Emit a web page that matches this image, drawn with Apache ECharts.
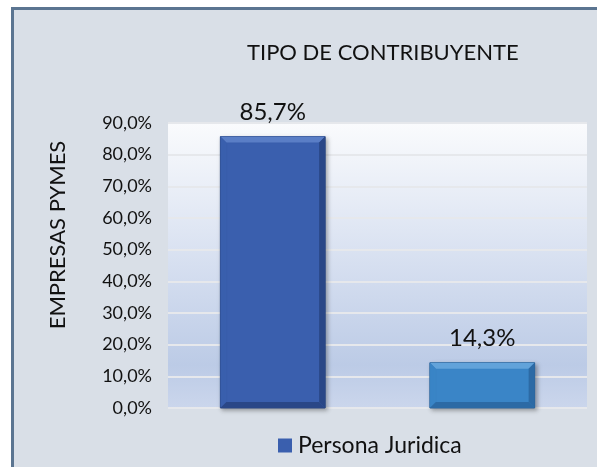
<!DOCTYPE html>
<html>
<head>
<meta charset="utf-8">
<script src="https://cdn.jsdelivr.net/npm/echarts@6/dist/echarts.min.js"></script>
<style>
  html, body { margin: 0; padding: 0; background: #ffffff; }
  #chart { width: 597px; height: 467px; }
</style>
</head>
<body>
<div id="chart"></div>
<script>
const categories = ['Persona Juridica A', 'Persona Juridica B'];
const values = [85.7, 14.3];
const valueLabels = ['85,7%', '14,3%'];
const seriesName = 'Persona Juridica';
const yTitle = 'EMPRESAS PYMES';
const barColors = [
  { main: '#3a5fae', light: '#5a7ec6', dark: '#2a4787', edge: '#24407c' },
  { main: '#3a85c7', light: '#62a3da', dark: '#2c6aa5', edge: '#285f95' }
];

const font = 'Lato, "DejaVu Sans", sans-serif';

function renderBar(params, api) {
  const idx = params.dataIndex;
  const top = api.coord([api.value(0), api.value(1)]);
  const bot = api.coord([api.value(0), 0]);
  const w = api.size([1, 0])[0] * 0.5;
  const x0 = top[0] - w / 2, x1 = top[0] + w / 2;
  const y0 = top[1], y1 = bot[1];
  const b = 6;
  const c = barColors[idx];
  return {
    type: 'group',
    children: [
      { type: 'rect', shape: { x: x0, y: y0, width: w, height: y1 - y0 },
        style: { fill: c.main, stroke: c.edge, lineWidth: 1,
          shadowBlur: 4, shadowOffsetX: 2, shadowOffsetY: 2, shadowColor: 'rgba(0,0,0,0.3)' } },
      { type: 'polygon', shape: { points: [[x0, y0], [x1, y0], [x1 - b, y0 + b], [x0 + b, y0 + b]] },
        style: { fill: c.light } },
      { type: 'polygon', shape: { points: [[x0, y0], [x0 + b, y0 + b], [x0 + b, y1 - b], [x0, y1]] },
        style: { fill: c.main, opacity: 0.9 } },
      { type: 'polygon', shape: { points: [[x1, y0], [x1, y1], [x1 - b, y1 - b], [x1 - b, y0 + b]] },
        style: { fill: c.dark } },
      { type: 'polygon', shape: { points: [[x0, y1], [x1, y1], [x1 - b, y1 - b], [x0 + b, y1 - b]] },
        style: { fill: c.dark } },
      { type: 'text', x: top[0], y: y0 - 12,
        style: { text: valueLabels[idx], fill: '#111', font: '24px ' + font,
          align: 'center', verticalAlign: 'bottom' } }
    ]
  };
}

const chart = echarts.init(document.getElementById('chart'));
chart.setOption({
  animation: false,
  backgroundColor: '#ffffff',
  graphic: [{
    type: 'rect', z: -10, silent: true,
    shape: { x: 12.5, y: 8.5, width: 620, height: 500 },
    style: { fill: '#d9dfe7', stroke: '#5b7591', lineWidth: 3 }
  }, {
    type: 'text', silent: true,
    x: 58, y: 235, rotation: Math.PI / 2,
    style: { text: yTitle, fill: '#111', font: '22px ' + font,
      align: 'center', verticalAlign: 'middle' }
  }],
  title: {
    text: 'TIPO DE CONTRIBUYENTE',
    left: 242, top: 37,
    textStyle: { fontFamily: font, fontWeight: 'normal', fontSize: 22, color: '#111' }
  },
  legend: {
    data: [seriesName],
    left: 273, top: 429,
    icon: 'rect', itemWidth: 14, itemHeight: 14, itemGap: 6,
    textStyle: { fontFamily: font, fontSize: 23, color: '#111', padding: [0, 0, 0, 1] }
  },
  grid: {
    left: 168, right: 10, top: 123, bottom: 59,
    show: true, borderWidth: 0,
    backgroundColor: {
      type: 'linear', x: 0, y: 0, x2: 0, y2: 1,
      colorStops: [
        { offset: 0, color: '#fafbfd' },
        { offset: 0.5, color: '#d6dff0' },
        { offset: 0.85, color: '#bccbe6' },
        { offset: 1, color: '#cbd6ec' }
      ]
    }
  },
  xAxis: {
    type: 'category',
    data: categories,
    axisLine: { show: false },
    axisTick: { show: false },
    axisLabel: { show: false }
  },
  yAxis: {
    type: 'value',
    min: 0, max: 90, interval: 10,
    axisLine: { show: false },
    axisTick: { show: false },
    axisLabel: {
      margin: 16,
      fontFamily: font, fontSize: 18, color: '#111',
      formatter: v => v.toFixed(1).replace('.', ',') + '%'
    },
    splitLine: { lineStyle: { color: '#e6e8ec', width: 2 } }
  },
  series: [{
    name: seriesName,
    type: 'custom',
    renderItem: renderBar,
    itemStyle: { color: barColors[0].main },
    encode: { x: 0, y: 1 },
    data: categories.map((c, i) => [i, values[i]])
  }]
});
</script>
</body>
</html>
